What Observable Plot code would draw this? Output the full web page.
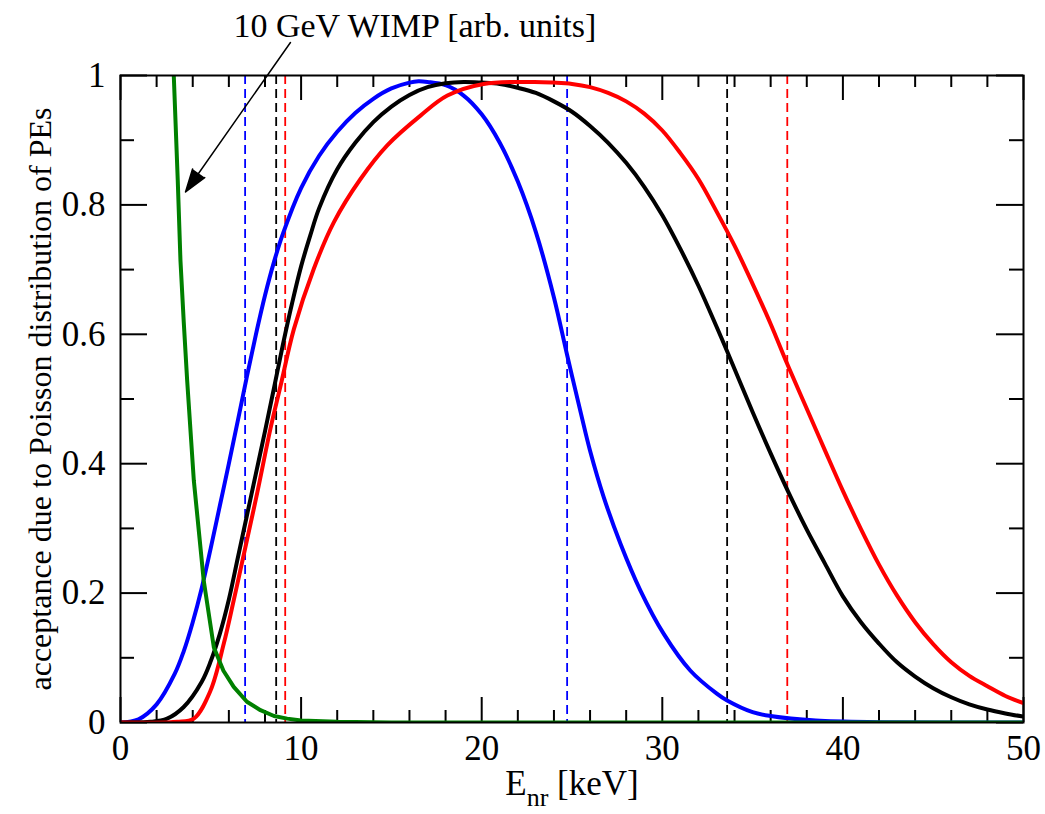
<!DOCTYPE html>
<html><head><meta charset="utf-8">
<script src="https://cdn.jsdelivr.net/npm/d3@7"></script>
<script src="https://cdn.jsdelivr.net/npm/@observablehq/plot@0.6"></script>
<style>body{margin:0;background:#fff}</style>
</head><body><div id="chart"></div>
<script>
// ---- data ----
const blueE = [0,1,2,3,3.5,4,4.5,5,5.5,6,6.5,7,7.5,8,8.5,9,10,11,12,13,14,15,16,16.5,17,18,19,20,21,22,23,24,24.73,25.5,26,26.76,27.69,28.79,30.08,31.56,33,33.59,35,36,38.5,42,50];
const blueV = [0,0.005,0.028,0.075,0.11,0.155,0.208,0.27,0.335,0.40,0.467,0.535,0.6,0.66,0.712,0.756,0.826,0.876,0.913,0.942,0.964,0.98,0.989,0.991,0.99,0.985,0.969,0.94,0.896,0.836,0.758,0.657,0.568,0.477,0.42,0.348,0.276,0.204,0.137,0.08,0.045,0.034,0.016,0.01,0.003,0.0005,0];
const blackE = [0,1,1.66,2.58,3.5,4.5,5,5.5,6,6.5,7,7.5,8,8.5,9,9.5,10,10.5,11,12,13,14,15,16,17,18,19,20,21,22,23,24,25,26,27,28,29,30,31,32,33,33.6,35,36,37,38,39,40,41,42,43,44,45,46,47,48,49,50];
const blackV = [0,0.0005,0.001,0.006,0.024,0.063,0.095,0.137,0.19,0.255,0.32,0.385,0.45,0.517,0.585,0.648,0.705,0.752,0.795,0.855,0.896,0.928,0.952,0.97,0.982,0.988,0.99,0.989,0.987,0.981,0.973,0.96,0.944,0.922,0.896,0.865,0.828,0.784,0.732,0.675,0.612,0.573,0.48,0.416,0.355,0.298,0.246,0.195,0.155,0.122,0.093,0.071,0.053,0.039,0.028,0.02,0.014,0.009];
const redE = [0,2.5,3.14,4.06,4.98,5.72,6.27,6.83,7.57,8.31,8.86,9.6,10.7,11.81,13.29,14.77,16.61,18.1,20.1,22.9,24,25,26,27,28,29,30,31,32,33,34,35,36,36.92,38,39,40,41,42,43,44,45,46,47,48,49,50];
const redV = [0,0,0.001,0.006,0.049,0.122,0.189,0.26,0.355,0.455,0.52,0.608,0.701,0.773,0.84,0.892,0.938,0.969,0.987,0.99,0.989,0.987,0.982,0.973,0.96,0.941,0.915,0.88,0.84,0.79,0.737,0.678,0.616,0.554,0.485,0.421,0.358,0.299,0.244,0.196,0.155,0.121,0.093,0.072,0.056,0.041,0.03];
const greenE = [2.8,2.95,3.17,3.32,3.5,3.69,4.06,4.61,5.17,5.7,6.27,7,7.75,8.5,9.23,10,12,15,50];
const greenV = [1.12,1.0,0.838,0.714,0.62,0.529,0.374,0.219,0.116,0.08,0.055,0.032,0.019,0.01,0.006,0.003,0.001,0,0];
const cutBlue = [6.9, 24.73];
const cutBlack = [8.62, 33.59];
const cutRed = [9.12, 36.92];
const xMajor = [0,10,20,30,40,50];
const xMinor = [2,4,6,8,12,14,16,18,22,24,26,28,32,34,36,38,42,44,46,48];
const yMajor = [0,0.2,0.4,0.6,0.8,1];
const yMinor = [0.1,0.3,0.5,0.7,0.9];
const yLabel = "acceptance due to Poisson distribution of PEs";
const xLabel = "E [keV]";
const annotation = "10 GeV WIMP [arb. units]";

const toRows = (E, V) => E.map((e, i) => ({E: e, v: V[i]}));
const blue = toRows(blueE, blueV), black = toRows(blackE, blackV), red = toRows(redE, redV), green = toRows(greenE, greenV);

// tick lengths in px converted to data units
const W = 1045, H = 814, mL = 120, mR = 22, mT = 75, mB = 92;
const kx = 50 / (W - mL - mR), ky = 1 / (H - mT - mB);
const majX = 25 * ky, minX = 12 * ky, majY = 27 * kx, minY = 14 * kx;

const chart = Plot.plot({
  width: W, height: H,
  marginLeft: mL, marginRight: mR, marginTop: mT, marginBottom: mB,
  x: {domain: [0, 50]},
  y: {domain: [0, 1]},
  style: {fontFamily: "'Liberation Serif', 'Times New Roman', serif", fontSize: "35px", color: "black", background: "white"},
  marks: [
    Plot.ruleX(cutBlue, {stroke: "#0000ff", strokeWidth: 1.8, strokeDasharray: "9,5"}),
    Plot.ruleX(cutBlack, {stroke: "black", strokeWidth: 1.8, strokeDasharray: "9,5"}),
    Plot.ruleX(cutRed, {stroke: "#ff0000", strokeWidth: 1.8, strokeDasharray: "9,5"}),
    // inward ticks, all four sides
    Plot.ruleX(xMajor, {x: d => d, y1: 0, y2: majX, stroke: "black", strokeWidth: 2}),
    Plot.ruleX(xMinor, {x: d => d, y1: 0, y2: minX, stroke: "black", strokeWidth: 2}),
    Plot.ruleX(xMajor, {x: d => d, y1: 1, y2: 1 - majX, stroke: "black", strokeWidth: 2}),
    Plot.ruleX(xMinor, {x: d => d, y1: 1, y2: 1 - minX, stroke: "black", strokeWidth: 2}),
    Plot.ruleY(yMajor, {y: d => d, x1: 0, x2: majY, stroke: "black", strokeWidth: 2}),
    Plot.ruleY(yMinor, {y: d => d, x1: 0, x2: minY, stroke: "black", strokeWidth: 2}),
    Plot.ruleY(yMajor, {y: d => d, x1: 50, x2: 50 - majY, stroke: "black", strokeWidth: 2}),
    Plot.ruleY(yMinor, {y: d => d, x1: 50, x2: 50 - minY, stroke: "black", strokeWidth: 2}),
    Plot.line(blue, {x: "E", y: "v", stroke: "#0000ff", strokeWidth: 4, curve: "catmull-rom", clip: true}),
    Plot.line(black, {x: "E", y: "v", stroke: "black", strokeWidth: 4, curve: "catmull-rom", clip: true}),
    Plot.line(red, {x: "E", y: "v", stroke: "#ff0000", strokeWidth: 4, curve: "catmull-rom", clip: true}),
    Plot.line(green, {x: "E", y: "v", stroke: "#008000", strokeWidth: 4, curve: "linear", clip: true}),
    Plot.frame({stroke: "black", strokeWidth: 2}),
    Plot.axisX({ticks: xMajor, tickSize: 0, tickPadding: 13, label: null, tickFormat: d => String(d)}),
    Plot.axisY({ticks: yMajor, tickSize: 0, tickPadding: 15, label: null, tickFormat: d => String(d)}),
    Plot.text([yLabel], {frameAnchor: "left", textAnchor: "middle", rotate: -90, dx: -80, fontSize: 32, text: d => d}),
    Plot.text([xLabel], {frameAnchor: "bottom", textAnchor: "middle", dy: 72, fontSize: 35, text: d => d}),
    Plot.text([{x: 16.3, y: 1.077, t: annotation}], {x: "x", y: "y", text: "t", fontSize: 34}),
    Plot.arrow([{x1: 9.41, y1: 1.051, x2: 3.6, y2: 0.82}], {x1: "x1", y1: "y1", x2: "x2", y2: "y2", stroke: "black", fill: "black", strokeWidth: 1.5, headLength: 24, headAngle: 36})
  ]
});

// subscript in the x label
const t = d3.select(chart).selectAll("text").filter(function () { return this.textContent === xLabel; });
t.text(null);
t.append("tspan").text("E");
t.append("tspan").attr("font-size", 26).attr("dy", 11).text("nr");
t.append("tspan").attr("dy", -11).text("\u00a0[keV]");

document.getElementById("chart").appendChild(chart);
</script>
</body></html>
